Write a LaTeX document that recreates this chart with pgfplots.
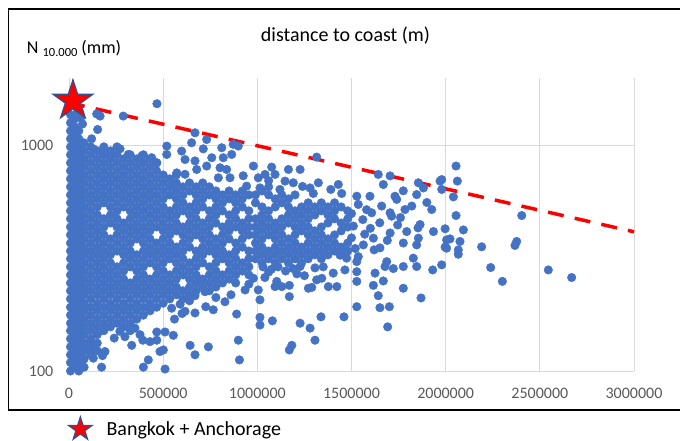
\documentclass[border=0pt]{standalone}
\usepackage{fontspec}
\setmainfont{Carlito}
\usepackage{pgfplots}
\pgfplotsset{compat=1.18}
\definecolor{ptblue}{HTML}{4472C4}
\definecolor{starblue}{HTML}{2F528F}
\definecolor{gridgray}{HTML}{D9D9D9}
\definecolor{tickgray}{HTML}{595959}
% filled five-pointed star mark
\pgfdeclareplotmark{fstar}{%
  \pgfpathmoveto{\pgfpointpolar{90}{\pgfplotmarksize}}%
  \pgfpathlineto{\pgfpointpolar{126}{0.382\pgfplotmarksize}}%
  \pgfpathlineto{\pgfpointpolar{162}{\pgfplotmarksize}}%
  \pgfpathlineto{\pgfpointpolar{198}{0.382\pgfplotmarksize}}%
  \pgfpathlineto{\pgfpointpolar{234}{\pgfplotmarksize}}%
  \pgfpathlineto{\pgfpointpolar{270}{0.382\pgfplotmarksize}}%
  \pgfpathlineto{\pgfpointpolar{306}{\pgfplotmarksize}}%
  \pgfpathlineto{\pgfpointpolar{342}{0.382\pgfplotmarksize}}%
  \pgfpathlineto{\pgfpointpolar{18}{\pgfplotmarksize}}%
  \pgfpathlineto{\pgfpointpolar{54}{0.382\pgfplotmarksize}}%
  \pgfpathclose
  \pgfusepathqfillstroke
}
\begin{document}
\begin{tikzpicture}[x=1bp,y=1bp]
\useasboundingbox (0,0) rectangle (680,441);
\begin{axis}[
  at={(69bp,70bp)}, anchor=south west,
  width=565bp, height=293bp, scale only axis,
  xmin=0, xmax=3000000, ymin=100, ymax=2000, ymode=log,
  clip=false,
  axis line style={draw=none},
  major tick length=0pt, minor tick length=0pt,
  xtick={0,500000,1000000,1500000,2000000,2500000,3000000},
  xticklabels={0,500000,1000000,1500000,2000000,2500000,3000000},
  scaled x ticks=false,
  ytick={100,1000}, yticklabels={100,1000},
  grid=major, major grid style={draw=gridgray, line width=0.9bp},
  tick label style={font=\fontsize{16bp}{18bp}\selectfont, text=tickgray, inner sep=0pt},
  xticklabel style={anchor=north, yshift=-17.3bp},
  yticklabel style={anchor=east, xshift=-15.5bp},
  legend style={at={(axis description cs:-0.002,-0.195)}, anchor=west,
    draw=none, fill=none, inner sep=0pt, outer sep=0pt,
    font=\fontsize{20bp}{24bp}\selectfont, nodes={inner sep=0pt}},
  legend cell align=left,
]
% stations
\addplot[forget plot, only marks, mark=*, mark size=4.3bp, color=ptblue, line width=0.4bp] coordinates {
(8000,100)(8000,109)(8000,118)(8000,128)(8000,139)(8000,151)(8000,163)(8000,177)(8000,192)(8000,209)(8000,227)(8000,246)(8000,267)(8000,290)(8000,315)(8000,341)(8000,370)(8000,402)(8000,436)(8000,474)(8000,514)(8000,558)(8000,605)(8000,657)(8000,713)(8000,774)(8000,840)(8000,912)(8000,989)(8000,1074)(8000,1165)(8000,1265)(8000,1373)
(30000,104)(30000,113)(30000,123)(30000,133)(30000,145)(30000,157)(30000,170)(30000,185)(30000,200)(30000,218)(30000,236)(30000,256)(30000,278)(30000,302)(30000,328)(30000,355)(30000,386)(30000,419)(30000,454)(30000,493)(30000,535)(30000,581)(30000,630)(30000,684)(30000,742)(30000,806)(30000,874)(30000,949)(30000,1030)(30000,1118)(30000,1213)(30000,1316)
(52000,100)(52000,109)(52000,118)(52000,128)(52000,139)(52000,151)(52000,163)(52000,177)(52000,192)(52000,209)(52000,227)(52000,246)(52000,267)(52000,290)(52000,315)(52000,341)(52000,370)(52000,402)(52000,436)(52000,474)(52000,514)(52000,558)(52000,605)(52000,657)(52000,713)(52000,774)(52000,840)(52000,912)(52000,989)(52000,1074)(52000,1165)
(80000,104)(80000,113)(80000,123)(80000,133)(80000,145)(80000,157)(80000,170)(80000,185)(80000,200)(80000,218)(80000,236)(80000,256)(80000,278)(80000,302)(80000,328)(80000,355)(80000,386)(80000,419)(80000,454)(80000,493)(80000,535)(80000,581)(80000,630)(80000,684)(80000,742)(80000,806)(80000,874)(80000,949)(80000,1030)
(115000,118)(115000,128)(115000,139)(115000,151)(115000,163)(115000,177)(115000,192)(115000,209)(115000,227)(115000,246)(115000,267)(115000,290)(115000,315)(115000,341)(115000,370)(115000,402)(115000,436)(115000,474)(115000,514)(115000,558)(115000,605)(115000,657)(115000,713)(115000,774)(115000,840)(115000,912)(115000,989)
(150000,123)(150000,133)(150000,145)(150000,157)(150000,170)(150000,185)(150000,200)(150000,218)(150000,236)(150000,256)(150000,278)(150000,302)(150000,328)(150000,355)(150000,386)(150000,419)(150000,454)(150000,493)(150000,535)(150000,581)(150000,630)(150000,684)(150000,742)(150000,806)(150000,874)(150000,949)
(185000,151)(185000,163)(185000,177)(185000,192)(185000,209)(185000,227)(185000,246)(185000,267)(185000,290)(185000,315)(185000,341)(185000,370)(185000,402)(185000,436)(185000,474)(185000,558)(185000,605)(185000,657)(185000,713)(185000,774)(185000,840)(185000,912)(185000,989)
(220000,157)(220000,170)(220000,185)(220000,200)(220000,218)(220000,236)(220000,256)(220000,278)(220000,302)(220000,328)(220000,355)(220000,386)(220000,454)(220000,493)(220000,535)(220000,581)(220000,630)(220000,684)(220000,742)(220000,806)(220000,874)(220000,949)
(255000,163)(255000,177)(255000,192)(255000,209)(255000,227)(255000,246)(255000,267)(255000,290)(255000,341)(255000,370)(255000,402)(255000,436)(255000,474)(255000,514)(255000,558)(255000,605)(255000,657)(255000,713)(255000,774)(255000,840)(255000,912)(255000,989)
(290000,157)(290000,170)(290000,185)(290000,200)(290000,218)(290000,236)(290000,256)(290000,278)(290000,302)(290000,328)(290000,355)(290000,386)(290000,419)(290000,454)(290000,535)(290000,581)(290000,630)(290000,684)(290000,742)(290000,806)(290000,874)
(325000,151)(325000,163)(325000,177)(325000,192)(325000,209)(325000,227)(325000,246)(325000,290)(325000,315)(325000,341)(325000,370)(325000,402)(325000,436)(325000,474)(325000,514)(325000,558)(325000,605)(325000,657)(325000,713)(325000,774)(325000,840)(325000,912)
(360000,170)(360000,185)(360000,200)(360000,218)(360000,236)(360000,256)(360000,278)(360000,302)(360000,328)(360000,386)(360000,419)(360000,454)(360000,493)(360000,535)(360000,581)(360000,630)(360000,684)(360000,742)(360000,806)(360000,874)
(395000,177)(395000,192)(395000,209)(395000,227)(395000,246)(395000,267)(395000,290)(395000,315)(395000,341)(395000,370)(395000,402)(395000,436)(395000,474)(395000,514)(395000,558)(395000,605)(395000,657)(395000,713)(395000,774)(395000,840)(395000,912)
(430000,185)(430000,200)(430000,218)(430000,236)(430000,256)(430000,302)(430000,328)(430000,355)(430000,386)(430000,419)(430000,454)(430000,493)(430000,535)(430000,581)(430000,630)(430000,684)(430000,742)(430000,806)(430000,874)
(465000,192)(465000,209)(465000,227)(465000,246)(465000,267)(465000,290)(465000,315)(465000,341)(465000,370)(465000,436)(465000,474)(465000,514)(465000,558)(465000,605)(465000,657)(465000,713)(465000,774)(465000,840)
(500000,200)(500000,218)(500000,236)(500000,256)(500000,278)(500000,302)(500000,328)(500000,355)(500000,386)(500000,419)(500000,454)(500000,493)(500000,535)(500000,581)(500000,630)(500000,684)(500000,742)
(535000,209)(535000,227)(535000,246)(535000,267)(535000,315)(535000,341)(535000,370)(535000,402)(535000,436)(535000,474)(535000,514)(535000,605)(535000,657)(535000,713)
(570000,218)(570000,236)(570000,256)(570000,278)(570000,302)(570000,328)(570000,355)(570000,419)(570000,454)(570000,493)(570000,535)(570000,581)(570000,630)(570000,684)(570000,742)
(605000,209)(605000,227)(605000,267)(605000,290)(605000,315)(605000,341)(605000,370)(605000,402)(605000,436)(605000,514)(605000,558)(605000,605)(605000,657)
(640000,218)(640000,236)(640000,256)(640000,278)(640000,302)(640000,355)(640000,386)(640000,419)(640000,454)(640000,493)(640000,535)(640000,630)(640000,684)
(675000,227)(675000,246)(675000,267)(675000,290)(675000,315)(675000,341)(675000,402)(675000,436)(675000,474)(675000,514)(675000,558)(675000,605)(675000,657)
(710000,236)(710000,256)(710000,302)(710000,328)(710000,355)(710000,386)(710000,419)(710000,454)(710000,535)(710000,581)(710000,630)(710000,684)
(745000,227)(745000,246)(745000,267)(745000,290)(745000,341)(745000,370)(745000,402)(745000,436)(745000,474)(745000,514)(745000,605)(745000,657)
(780000,236)(780000,256)(780000,278)(780000,302)(780000,328)(780000,355)(780000,386)(780000,454)(780000,493)(780000,535)(780000,581)(780000,630)
(815000,246)(815000,267)(815000,315)(815000,341)(815000,370)(815000,402)(815000,436)(815000,514)(815000,558)(815000,605)
(850000,256)(850000,278)(850000,302)(850000,328)(850000,386)(850000,419)(850000,454)(850000,493)(850000,581)(850000,630)
(885000,246)(885000,267)(885000,290)(885000,315)(885000,341)(885000,370)(885000,436)(885000,474)(885000,514)(885000,558)(885000,605)
(920000,278)(920000,302)(920000,355)(920000,386)(920000,419)(920000,454)(920000,535)(920000,581)(920000,630)
(955000,267)(955000,290)(955000,315)(955000,341)(955000,402)(955000,436)(955000,474)(955000,514)(955000,605)
(990000,315)(990000,341)(990000,370)(990000,402)(990000,436)(990000,474)(990000,558)(990000,605)
(1025000,302)(1025000,328)(1025000,355)(1025000,386)(1025000,419)(1025000,454)(1025000,493)(1025000,535)(1025000,630)
(1060000,315)(1060000,341)(1060000,402)(1060000,436)(1060000,474)(1060000,514)(1060000,605)(1060000,657)
(1095000,302)(1095000,328)(1095000,355)(1095000,386)(1095000,419)(1095000,454)(1095000,535)(1095000,581)
(1130000,315)(1130000,341)(1130000,370)(1130000,402)(1130000,436)(1130000,474)(1130000,558)(1130000,605)
(1165000,302)(1165000,328)(1165000,355)(1165000,386)(1165000,454)(1165000,493)(1165000,535)(1165000,581)
(1200000,315)(1200000,341)(1200000,370)(1200000,402)(1200000,436)(1200000,474)(1200000,514)(1200000,605)
(1235000,302)(1235000,328)(1235000,355)(1235000,419)(1235000,454)(1235000,493)(1235000,535)
(1270000,315)(1270000,341)(1270000,370)(1270000,402)(1270000,436)(1270000,474)(1270000,514)(1270000,558)
(1305000,328)(1305000,355)(1305000,386)(1305000,419)(1305000,493)(1305000,535)
(1340000,315)(1340000,341)(1340000,370)(1340000,402)(1340000,436)(1340000,514)(1340000,558)
(1375000,328)(1375000,355)(1375000,386)(1375000,454)(1375000,493)(1375000,535)
(1410000,341)(1410000,370)(1410000,402)(1410000,474)(1410000,514)(1410000,558)
(1445000,328)(1445000,355)(1445000,419)(1445000,454)(1445000,535)
(1480000,341)(1480000,370)(1480000,436)(1480000,474)(1480000,514)
(45000,1420)(62000,1330)(72000,1250)
(467000,1537)(147000,1385)(165000,1355)(288000,1355)(152000,1181)(120000,1074)
(519000,997)(519000,915)(669000,1142)(651000,1031)(731000,1066)(713000,969)(811000,980)(872000,1015)(899000,997)(864000,915)
(819000,885)(758000,885)(598000,947)(616000,869)(669000,857)(678000,785)(731000,813)(802000,799)(837000,785)(925000,736)
(943000,662)(793000,721)(855000,721)(572000,758)(616000,747)(554000,673)
(129000,969)(182000,931)(218000,931)(271000,969)(315000,915)(386000,900)(439000,885)(466000,840)
(173000,104)(395000,104)(421000,112)(191000,122)(178000,117)(129000,114)(111000,124)(120000,133)(392000,137)(430000,135)
(466000,137)(333000,130)(297000,142)(377000,145)(466000,149)(240000,140)(270000,150)(350000,155)
(510000,102)(483000,122)(501000,124)(554000,144)(510000,149)(643000,130)(740000,128)(669000,118)(899000,137)(905000,112)
(890000,179)(828000,203)(766000,187)(726000,193)(669000,181)(616000,184)(722000,225)(669000,216)(935000,229)(560000,170)
(590000,198)(780000,212)(860000,218)(955000,243)(700000,250)(640000,205)(545000,190)(600000,180)
(979000,813)(1076000,804)(1094000,746)(1165000,785)(1227000,785)(1041000,746)(1005000,721)(1014000,650)(1147000,697)(1191000,685)
(1315000,891)(1324000,685)(1430000,673)(1448000,614)(1280000,650)(1297000,614)(1240000,660)(1060000,700)(1120000,640)(1390000,640)
(1170000,124)(1183000,130)(1306000,137)(1280000,155)(1227000,163)(1338000,174)(1460000,174)(1080000,167)(1014000,160)(1014000,173)
(1170000,214)(1014000,207)(1005000,229)(979000,258)(1271000,233)(1289000,235)(1377000,237)(1422000,237)(1465000,281)(1403000,272)
(1315000,254)(1342000,258)(1170000,240)(1130000,237)(1103000,250)(1094000,237)(1060000,275)(1210000,270)(1250000,265)(1040000,260)
(1030000,290)(1075000,283)(1110000,290)(1150000,278)(1190000,285)(1227000,291)(1306000,287)(1350000,290)
(1642000,746)(1705000,735)(1669000,673)(1855000,685)(1882000,650)(1846000,607)(1775000,631)(1598000,597)(1731000,597)(1740000,578)
(1926000,521)(1970000,697)(1528000,597)(1536000,549)(1607000,504)(1705000,504)(1713000,487)(1784000,521)(1864000,447)
(1528000,193)(1651000,191)(1701000,193)(1692000,157)(1642000,216)(1869000,211)(1775000,233)(1616000,240)(1669000,251)(1931000,281)
(1775000,291)(1846000,291)(1528000,276)(1528000,250)(1625000,272)(1678000,291)(1722000,285)
(1935000,416)(1855000,389)(1846000,363)(1775000,370)(1793000,416)(1853000,432)(1705000,410)(1651000,352)(1687000,306)(1828000,317)
(1616000,389)(1563000,363)(1536000,322)(1528000,306)(1474000,317)(1439000,327)
(1510000,440)(1560000,470)(1600000,430)(1650000,455)(1690000,380)(1745000,445)(1570000,405)(1620000,345)(1500000,390)(1520000,350)
(1580000,520)(1660000,540)(1500000,500)(1760000,480)(1900000,560)(1820000,540)
(2055000,813)(1979000,708)(2062000,697)(1979000,640)(2041000,593)(2055000,490)(2404000,490)(1997000,428)(2094000,423)(2005000,382)
(2023000,386)(1997000,355)(2005000,351)(2076000,376)(2067000,345)(2067000,330)(2191000,356)(2377000,376)(2368000,361)(1979000,296)
(2239000,288)(2301000,250)(2545000,281)(2669000,260)
};
% upper envelope
\addplot[forget plot, red, line width=3.5bp, dash pattern=on 16bp off 11.3bp] coordinates {(0,1553)(3000000,415)};
% Bangkok + Anchorage
\addplot[forget plot, only marks, mark=fstar, mark size=21bp, mark options={fill=red, draw=starblue, line width=1.2bp}] coordinates {(21000,1585)};
\addlegendimage{legend image code/.code={\draw[mark=fstar, mark size=12.3bp, fill=red, draw=starblue, line width=1.2bp] plot coordinates {(0bp,0bp)}; \path (-12.3bp,0bp) (26bp,0bp);}}
\addlegendentry{Bangkok + Anchorage}
\end{axis}
\node[anchor=base, inner sep=0pt, font=\fontsize{20bp}{24bp}\selectfont] at (345.5,399) {distance to coast (m)};
\node[anchor=base west, inner sep=0pt, font=\fontsize{18bp}{22bp}\selectfont] at (26.7,387.7) {N \raisebox{-3bp}{\fontsize{12.5bp}{14bp}\selectfont 10.000} (mm)};
\draw[line width=1.5bp, black] (680,432) -- (8.5,432) -- (8.5,31) -- (680,31);
\end{tikzpicture}
\end{document}
